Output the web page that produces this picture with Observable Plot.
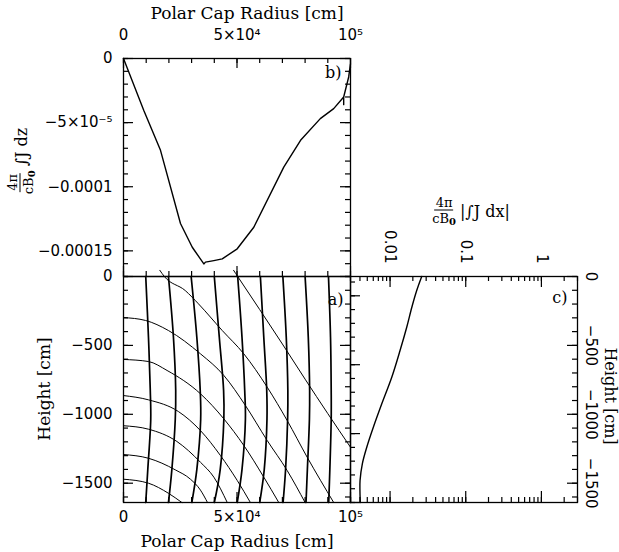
<!DOCTYPE html>
<html>
<head>
<meta charset="utf-8">
<script src="https://cdn.jsdelivr.net/npm/d3@7"></script>
<script src="https://cdn.jsdelivr.net/npm/@observablehq/plot@0.6"></script>
<style>
  body { margin: 0; background: #fff; }
  #wrap { position: relative; width: 619px; height: 552px; overflow: hidden; background: #fff; }
  #wrap svg { position: absolute; left: 0; top: 0; }
  .lbl { position: absolute; display: flex; align-items: center; white-space: nowrap;
         font-family: "DejaVu Serif", serif; color: #000; line-height: 1; }
  .frac { display: inline-flex; flex-direction: column; align-items: center; font-size: 13px; margin-right: 4px; }
  .frac .num { border-bottom: 1px solid #000; padding: 0 1px 1px 1px; }
  .frac .den { padding-top: 1px; }
  .frac sub { font-size: 10px; vertical-align: -2px; font-weight: bold; }
  .main { font-size: 16px; }
</style>
</head>
<body>
<div id="wrap">
  <div class="lbl" id="labB"><span class="frac"><span class="num">4π</span><span class="den">cB<sub>0</sub></span></span><span class="main">∫J dz</span></div>
  <div class="lbl" id="labC"><span class="frac"><span class="num">4π</span><span class="den">cB<sub>0</sub></span></span><span class="main">|∫J dx|</span></div>
  <div class="lbl" id="labHL" style="font-size:17px">Height [cm]</div>
  <div class="lbl" id="labHR" style="font-size:16px">Height [cm]</div>
</div>
<script>
// ---------------- data ----------------
const radiusTicks = [0, 50000, 100000];
const radiusTickLabels = ["0", "5×10⁴", "10⁵"];
const integralTicks = [0, -5e-5, -1e-4, -1.5e-4];
const integralTickLabels = ["0", "−5×10⁻⁵", "−0.0001", "−0.00015"];
const heightTicks = [0, -500, -1000, -1500];
const heightTickLabels = ["0", "−500", "−1000", "−1500"];
const fluxTicks = [0.01, 0.1, 1];
const fluxTickLabels = ["0.01", "0.1", "1"];

// panel b: integrated current vs polar cap radius
const profileRadius = [0, 8900, 16300, 25100, 30300, 35400, 36100, 39800, 43500, 50100, 57400, 70600, 78000, 86700, 92600, 97000, 97000, 97000, 99200, 100000];
const profileIntegral = [0, -4.04e-5, -7.16e-5, -1.287e-4, -1.472e-4, -1.602e-4, -1.588e-4, -1.576e-4, -1.5625e-4, -1.484e-4, -1.316e-4, -8.47e-5, -6.38e-5, -4.69e-5, -3.91e-5, -3.0e-5, -3.6e-5, -3.0e-5, -1.44e-5, -4e-6];

// panel a: thick (near-vertical) lines, radius at each listed height
const fieldLineHeights = [0, -441, -828, -1038, -1401, -1640];
const fieldLine1 = [9800, 11000, 11800, 12000, 10700, 9800];
const fieldLine2 = [19800, 22000, 23000, 22800, 21300, 19800];
const fieldLine3 = [29800, 32300, 33800, 34000, 32300, 30100];
const fieldLine4 = [40000, 42200, 44100, 44200, 42600, 40000];
const fieldLine5 = [50300, 52200, 53400, 53700, 52200, 50100];
const fieldLine6 = [60300, 61800, 63100, 63200, 62000, 60000];
const fieldLine7 = [70200, 71700, 72400, 72300, 71400, 70300];
const fieldLine8 = [80000, 81400, 82000, 81900, 81000, 80400];
const fieldLine9 = [90300, 91200, 91500, 91500, 90900, 90400];

// panel a: thin curved lines
const contour0Radius = [48500, 50300, 60000, 70000, 80000, 90000, 100000];
const contour0Height = [45, 0, -240, -490, -745, -995, -1239];
const contour1Radius = [16000, 18000, 27200, 33000, 43500, 53000, 63300, 72100, 80900, 92600];
const contour1Height = [45, 0, -102, -198, -392, -561, -803, -1045, -1311, -1640];
const contour2Radius = [0, 9700, 19800, 33900, 44200, 53700, 63300, 72100, 80000];
const contour2Height = [-298, -319, -392, -561, -718, -936, -1190, -1408, -1640];
const contour3Radius = [0, 11000, 19200, 33900, 44200, 53000, 61800, 68400];
const contour3Height = [-602, -617, -682, -851, -1033, -1226, -1456, -1640];
const contour4Radius = [0, 11000, 24200, 33900, 42700, 50100, 55900];
const contour4Height = [-864, -895, -980, -1118, -1299, -1480, -1640];
const contour5Radius = [0, 11000, 23500, 33900, 39800, 45700];
const contour5Height = [-1083, -1108, -1197, -1348, -1456, -1640];
const contour6Radius = [0, 11000, 22800, 29500, 33900, 37000];
const contour6Height = [-1292, -1319, -1403, -1471, -1550, -1640];
const contour7Radius = [0, 11000, 19800, 25700];
const contour7Height = [-1471, -1500, -1573, -1640];

// panel c: |integral J dx| vs height
const columnHeights = [0, -102, -223, -368, -537, -731, -924, -1094, -1239, -1359, -1481, -1560, -1640];
const columnFlux = [0.0262, 0.0225, 0.0194, 0.0166, 0.01355, 0.01053, 0.00777, 0.00601, 0.00492, 0.0043, 0.00401, 0.0040, 0.00404];

// ---------------- layout ----------------
const W = 619, H = 552;
const xL = 123, xM = 350, xR = 577, yT = 58, yM = 276, yB = 502;
const radiusDomain = [0, 100000];
const integralDomain = [-1.7e-4, 0];
const heightDomain = [-1640, 0];
const fluxDomain = [0.003, 3];

const radiusMinor = d3.range(0, 11).map(i => i * 10000);
const integralMinor = d3.range(0, 18).map(i => -i * 1e-5);
const heightMinor = d3.range(0, 17).map(i => -i * 100);
const fluxMinor = [0.001, 0.01, 0.1, 1].flatMap(d => d3.range(1, 10).map(k => k * d))
  .filter(v => v >= fluxDomain[0] * 0.999 && v <= fluxDomain[1] * 1.001);
// left edge of panel c carries a mirrored height axis
const mirror = v => heightDomain[0] - v;

const ink = "#000";
const tickFont = {fontFamily: "DejaVu Sans, sans-serif", fontSize: 15, fill: ink};
const titleFont = {fontFamily: "DejaVu Serif, serif", fontSize: 17, fill: ink};
const tagFont = {fontFamily: "DejaVu Serif, serif", fontSize: 16, fill: ink};
const tickW = 1.2;

// inward tick marks; length (len px) converted into data units of the other scale
function ticksX(values, edge, len, yDomain, fh) {
  const [lo, hi] = yDomain, d = (hi - lo) * len / fh;
  const a = edge === "top" ? hi : lo, b = edge === "top" ? hi - d : lo + d;
  return Plot.ruleX(values, {x: v => v, y1: () => a, y2: () => b, stroke: ink, strokeWidth: tickW});
}
function ticksY(values, edge, len, xDomain, fw, log = false, map = v => v) {
  const [lo, hi] = xDomain;
  let a, b;
  if (log) {
    const f = Math.pow(hi / lo, len / fw);
    a = edge === "left" ? lo : hi; b = edge === "left" ? lo * f : hi / f;
  } else {
    const d = (hi - lo) * len / fw;
    a = edge === "left" ? lo : hi; b = edge === "left" ? lo + d : hi - d;
  }
  return Plot.ruleY(values, {y: map, x1: () => a, x2: () => b, stroke: ink, strokeWidth: tickW});
}
const base = {width: W, height: H, style: {background: "transparent", overflow: "visible"}};

// ---------------- panel b ----------------
const bH = yM - yT, bW = xM - xL;
const profile = profileRadius.map((r, i) => ({r, v: profileIntegral[i]}));
const plotB = Plot.plot({
  ...base,
  marginLeft: xL, marginRight: W - xM, marginTop: yT, marginBottom: H - yM,
  x: {domain: radiusDomain, axis: null},
  y: {domain: integralDomain, axis: null},
  marks: [
    ticksX(radiusMinor, "top", 5, integralDomain, bH), ticksX(radiusTicks, "top", 10, integralDomain, bH),
    ticksX(radiusMinor, "bottom", 5, integralDomain, bH), ticksX(radiusTicks, "bottom", 10, integralDomain, bH),
    ticksY(integralMinor, "left", 5, radiusDomain, bW), ticksY(integralTicks, "left", 10, radiusDomain, bW),
    ticksY(integralMinor, "right", 5, radiusDomain, bW), ticksY(integralTicks, "right", 10, radiusDomain, bW),
    Plot.line(profile, {x: "r", y: "v", stroke: ink, strokeWidth: 1.4}),
    Plot.frame({stroke: ink, strokeWidth: 1.3}),
    Plot.text(radiusTicks, {x: d => d, text: (d, i) => radiusTickLabels[i], frameAnchor: "top", lineAnchor: "bottom", dy: -19, ...tickFont}),
    Plot.text(["Polar Cap Radius [cm]"], {text: d => d, frameAnchor: "top", lineAnchor: "bottom", dy: -40, dx: 10, ...titleFont}),
    Plot.text(integralTicks, {y: d => d, text: (d, i) => integralTickLabels[i], frameAnchor: "left", textAnchor: "end", dx: -11, ...tickFont}),
    Plot.text(["b)"], {text: d => d, frameAnchor: "top-right", textAnchor: "end", lineAnchor: "top", dx: -9, dy: 8, ...tagFont})
  ]
});

// ---------------- panel a ----------------
const aH = yB - yM, aW = xM - xL;
const fieldLines = [fieldLine1, fieldLine2, fieldLine3, fieldLine4, fieldLine5, fieldLine6, fieldLine7, fieldLine8, fieldLine9]
  .flatMap((radii, k) => radii.map((r, i) => ({r, h: fieldLineHeights[i], id: k})));
const contourPairs = [
  [contour0Radius, contour0Height], [contour1Radius, contour1Height], [contour2Radius, contour2Height],
  [contour3Radius, contour3Height], [contour4Radius, contour4Height], [contour5Radius, contour5Height],
  [contour6Radius, contour6Height], [contour7Radius, contour7Height]];
const contours = contourPairs.flatMap(([rs, hs], k) => rs.map((r, i) => ({r, h: hs[i], id: k})));
const plotA = Plot.plot({
  ...base,
  marginLeft: xL, marginRight: W - xM, marginTop: yM, marginBottom: H - yB,
  x: {domain: radiusDomain, axis: null},
  y: {domain: heightDomain, axis: null},
  marks: [
    ticksX(radiusMinor, "bottom", 5, heightDomain, aH), ticksX(radiusTicks, "bottom", 10, heightDomain, aH),
    ticksY(heightMinor, "left", 5, radiusDomain, aW), ticksY(heightTicks, "left", 10, radiusDomain, aW),
    ticksY(heightMinor, "right", 5, radiusDomain, aW), ticksY(heightTicks, "right", 10, radiusDomain, aW),
    Plot.line(contours, {x: "r", y: "h", z: "id", curve: "monotone-x", stroke: ink, strokeWidth: 1}),
    Plot.line(fieldLines, {x: "r", y: "h", z: "id", curve: "catmull-rom", stroke: ink, strokeWidth: 1.7}),
    Plot.frame({stroke: ink, strokeWidth: 1.3}),
    Plot.text(radiusTicks, {x: d => d, text: (d, i) => radiusTickLabels[i], frameAnchor: "bottom", lineAnchor: "top", dy: 9, ...tickFont}),
    Plot.text(["Polar Cap Radius [cm]"], {text: d => d, frameAnchor: "bottom", lineAnchor: "bottom", dy: 44, ...titleFont}),
    Plot.text(heightTicks, {y: d => d, text: (d, i) => heightTickLabels[i], frameAnchor: "left", textAnchor: "end", dx: -11, ...tickFont}),
    Plot.text(["a)"], {text: d => d, frameAnchor: "top-right", textAnchor: "end", lineAnchor: "top", dx: -7, dy: 17, ...tagFont})
  ]
});

// ---------------- panel c ----------------
const cH = yB - yM, cW = xR - xM;
const column = columnHeights.map((h, i) => ({h, f: columnFlux[i]}));
const plotC = Plot.plot({
  ...base,
  marginLeft: xM, marginRight: W - xR, marginTop: yM, marginBottom: H - yB,
  x: {type: "log", domain: fluxDomain, axis: null},
  y: {domain: heightDomain, axis: null},
  marks: [
    ticksX(fluxMinor, "top", 5, heightDomain, cH), ticksX(fluxTicks, "top", 11, heightDomain, cH),
    ticksX(fluxMinor, "bottom", 5, heightDomain, cH), ticksX(fluxTicks, "bottom", 11, heightDomain, cH),
    ticksY(heightMinor, "right", 5, fluxDomain, cW, true), ticksY(heightTicks, "right", 10, fluxDomain, cW, true),
    ticksY(heightMinor, "left", 5, fluxDomain, cW, true, mirror), ticksY(heightTicks, "left", 10, fluxDomain, cW, true, mirror),
    Plot.line(column, {x: "f", y: "h", curve: "catmull-rom", stroke: ink, strokeWidth: 1.4}),
    Plot.frame({stroke: ink, strokeWidth: 1.3}),
    Plot.text(fluxTicks, {x: d => d, text: (d, i) => fluxTickLabels[i], frameAnchor: "top", rotate: 90, textAnchor: "end", lineAnchor: "middle", dy: -13, ...tickFont}),
    Plot.text(heightTicks, {y: d => d, text: (d, i) => heightTickLabels[i], frameAnchor: "right", rotate: 90, textAnchor: "middle", lineAnchor: "bottom", dx: 8, ...tickFont}),
    Plot.text(["c)"], {text: d => d, frameAnchor: "top-right", textAnchor: "end", lineAnchor: "top", dx: -10, dy: 15, ...tagFont})
  ]
});

// merge the three panels into one SVG (all share the same width/height, so coordinates align)
const wrap = document.getElementById("wrap");
wrap.appendChild(plotB);
for (const p of [plotA, plotC]) {
  for (const ch of [...p.children]) {
    if (ch.tagName.toLowerCase() !== "style") plotB.appendChild(ch);
  }
}

// HTML axis titles, positioned by their centres
function place(id, cx, cy, rot) {
  const el = document.getElementById(id);
  el.style.left = cx + "px"; el.style.top = cy + "px";
  el.style.transform = `translate(-50%, -50%)${rot ? ` rotate(${rot}deg)` : ""}`;
  wrap.appendChild(el);
}
place("labB", 21, 161, -90);
place("labC", 471, 211, 0);
place("labHL", 44, 389, -90);
place("labHR", 610, 396, 90);
</script>
</body>
</html>
